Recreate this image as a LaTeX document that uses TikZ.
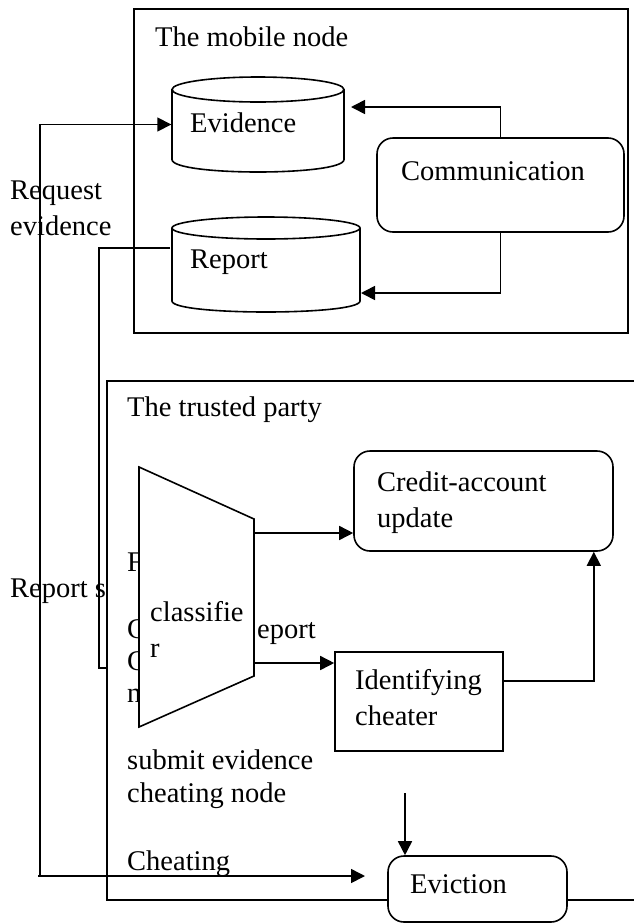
\documentclass[tikz,border=0pt]{standalone}
\usepackage{fontspec}
\setmainfont{Liberation Serif}
\usetikzlibrary{arrows.meta, positioning, calc}
\tikzset{
  frame/.style={rectangle,draw,line width=1.8pt,inner sep=0pt},
  store/.style={rectangle,inner sep=0pt},
  rbox/.style={rectangle,rounded corners=16pt,draw,line width=1.6pt,fill=white,inner sep=0pt},
  sbox/.style={rectangle,draw,line width=1.6pt,fill=white,inner sep=0pt},
  txt/.style={anchor=base west,inner sep=0pt,align=left,font=\fontsize{28.5}{36}\selectfont},
  ar/.style={-{Triangle[length=14pt,width=14pt]},line width=1.6pt},
  ln/.style={line width=1.6pt}
}
% drum outline: left, right, top, bottom, half height of the ellipse
\newcommand{\drum}[5]{%
  \draw[ln] ({(#1+#2)/2},{#3+#5}) ellipse [x radius={(#2-#1)/2}, y radius=#5];
  \draw[ln] (#1,{#3+#5}) -- (#1,{#4-#5})
    .. controls (#1,{#4+#5/3}) and (#2,{#4+#5/3}) .. (#2,{#4-#5}) -- (#2,{#3+#5});}

\begin{document}
\begin{tikzpicture}[x=1pt,y=-1pt]
\useasboundingbox (0,0) rectangle (633,924);
\node[txt] (rs) at (10,597) {Report s};
% the mobile node
\node[frame,minimum width=494pt,minimum height=324pt] (mob) at (381,171) {};
\node[txt] at (155,46) {The mobile node};
\node[store,minimum width=173pt,minimum height=95pt] (ev) at (258,124.5) {};
\drum{172}{344}{77}{172}{12.5}
\node[txt] at (190,132) {Evidence};
\node[store,minimum width=188pt,minimum height=95pt] (rep) at (266,264.5) {};
\drum{172}{360}{217}{312}{11}
\node[txt] at (190,268) {Report};
\node[rbox,minimum width=247pt,minimum height=94pt] (comm) at (500.5,185) {};
\node[txt] at (401,180) {Communication};
\node[txt] at (10,235) {Request\\evidence};
% the trusted party
\node[frame,fill=white,minimum width=533pt,minimum height=519pt] (trust) at (373.5,640.5) {};
\node[txt] at (127,416) {The trusted party};
\node[txt] at (127,571) {F};
\node[txt] at (127,638) {C};
\node[txt] at (257,638) {eport};
\node[txt] at (127,670) {C};
\node[txt] at (127,702) {n};
\node[txt] at (127,802) {submit evidence\\[-3pt]cheating node};
\node[txt] at (127,870) {Cheating};
\draw[ln,fill=white] (139,467) -- (254,519) -- (254,676) -- (139,727) -- cycle;
\node[txt] at (150,657) {classifie\\r};
\coordinate (clsa) at (254,533);
\coordinate (clsb) at (254,663);
\node[rbox,minimum width=259pt,minimum height=100pt] (cred) at (483.5,501) {};
\node[txt] at (377,527) {Credit-account\\update};
\node[sbox,minimum width=168pt,minimum height=99pt] (idc) at (419,701.5) {};
\node[txt] at (355,725) {Identifying\\cheater};
\node[rbox,minimum width=179pt,minimum height=66pt] (evc) at (477.5,889) {};
\node[txt] at (410,893) {Eviction};
% connectors
\coordinate (evin) at (351,107);
\coordinate (repin) at (361,293);
\draw[ar] (comm.north) |- (evin);
\draw[ar] (comm.south) |- (repin);
\coordinate (repout) at (170,248);
\coordinate (trin) at (107,668);
\draw[ln] (repout) -| ($(trin)+(-8,0)$) -- (trin);
\coordinate (lft) at (38,876);
\coordinate (rq) at (40,876);
\coordinate (chtip) at (365,876);
\draw[ar] (lft) -- (chtip);
\draw[ar] (rq) |- (ev.west);
\draw[ar] (clsa) -- (clsa -| cred.west);
\draw[ar] (clsb) -- (clsb -| idc.west);
\draw[ar] (idc.east |- 0,681) -| ($(cred.south east)+(-20,0)$);
\coordinate (evst) at (405,793);
\draw[ar] (evst) -- (evst |- evc.north);
\end{tikzpicture}
\end{document}
